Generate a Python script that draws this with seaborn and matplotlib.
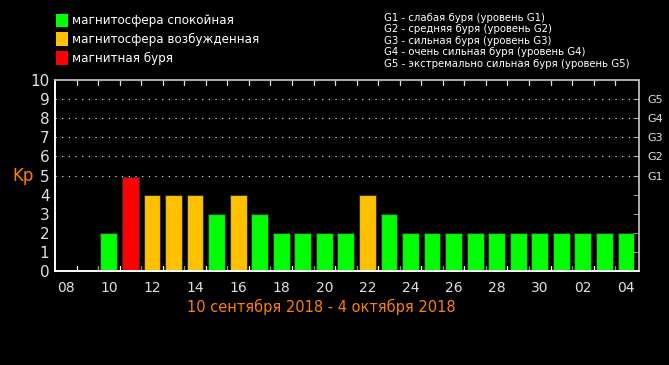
import numpy as np
import pandas as pd
import seaborn as sns
import matplotlib.pyplot as plt
from matplotlib.patches import Rectangle

# day labels from 08 Sep to 04 Oct
days = ["08", "09", "10", "11", "12", "13", "14", "15", "16", "17", "18", "19", "20",
        "21", "22", "23", "24", "25", "26", "27", "28", "29", "30", "01", "02", "03", "04"]
bar_days = days[2:]
kp = [2, 4.9, 4, 4, 4, 3, 4, 3, 2, 2, 2, 2, 4, 3, 2, 2, 2, 2, 2, 2, 2, 2, 2, 2, 2]
state = ["quiet", "storm", "active", "active", "active", "quiet", "active", "quiet",
         "quiet", "quiet", "quiet", "quiet", "active", "quiet", "quiet", "quiet", "quiet",
         "quiet", "quiet", "quiet", "quiet", "quiet", "quiet", "quiet", "quiet"]
legend_labels = ["магнитосфера спокойная", "магнитосфера возбужденная", "магнитная буря"]
g_labels = ["G1", "G2", "G3", "G4", "G5"]
g_text = ["G1 - слабая буря (уровень G1)",
          "G2 - средняя буря (уровень G2)",
          "G3 - сильная буря (уровень G3)",
          "G4 - очень сильная буря (уровень G4)",
          "G5 - экстремально сильная буря (уровень G5)"]
period = "10 сентября 2018 - 4 октября 2018"

colors = {"quiet": "#00ff00", "active": "#ffc000", "storm": "#ff0000"}
orange = "#ff8000"
fg = "#e0e0e0"

df = pd.DataFrame({"pos": [days.index(d) for d in bar_days], "kp": kp, "state": state})

sns.set_style("dark")
plt.rcParams["font.family"] = ["DejaVu Sans"]
fig = plt.figure(figsize=(6.69, 3.65), dpi=100, facecolor="black")
ax = fig.add_axes([0.0822, 0.2575, 0.8728, 0.5233])
ax.set_facecolor("black")

sns.barplot(data=df, x="pos", y="kp", hue="state", palette=colors, native_scale=True,
            width=0.78, dodge=False, legend=False, saturation=1,
            edgecolor="#303030", linewidth=0.8, ax=ax)

ax.set_xlim(-0.5, len(days) - 0.4)
ax.set_ylim(0, 10)
ax.set_xticks(range(0, len(days), 2))
ax.set_xticklabels(days[::2], color=fg, fontsize=10)
ax.set_yticks(range(0, 11))
ax.set_yticklabels([str(i) for i in range(11)], color=fg, fontsize=11)
ax.tick_params(axis="x", length=0, pad=7)
ax.tick_params(axis="y", length=0, pad=4)
ax.set_xlabel("")
ax.set_ylabel("Kp", color=orange, fontsize=12, rotation=0)
ax.yaxis.set_label_coords(-0.055, 0.45)

# dotted lines at storm levels
for lvl in range(5, 10):
    ax.axhline(lvl, color="white", linestyle=(0, (1, 5)), linewidth=0.8, zorder=0)
ax.grid(False)

# half-day tick marks on top and bottom
for i, h in enumerate(np.arange(0.5, len(days) - 1, 1)):
    ax.plot([h, h], [10, 9.75], color=fg, linewidth=0.9, clip_on=False)
    ax.plot([h, h], [0, 0.25], color="white" if i % 2 == 0 else "#909090",
            linewidth=0.9, clip_on=False)

# right axis G levels
ax2 = ax.twinx()
ax2.set_ylim(0, 10)
ax2.set_yticks(range(5, 10))
ax2.set_yticklabels(g_labels, color=fg, fontsize=8)
ax2.set_yticks(range(0, 11), minor=True)
ax2.tick_params(axis="y", which="both", direction="in", length=4, color="#b0b0b0", pad=6)
ax2.grid(False)

for a in (ax, ax2):
    for s in ("left", "bottom"):
        a.spines[s].set_color("white")
        a.spines[s].set_linewidth(1.2)
    for s in ("top", "right"):
        a.spines[s].set_color("#b0b0b0")
        a.spines[s].set_linewidth(1.2)

# legend on top-left
for i, lab in enumerate(legend_labels):
    y = 0.945 - i * 0.052
    fig.patches.append(Rectangle((0.084, y - 0.018), 0.018, 0.036, transform=fig.transFigure,
                                 facecolor=colors[["quiet", "active", "storm"][i]], edgecolor="none"))
    fig.text(0.108, y, lab, color="white", fontsize=8.6, va="center", ha="left")

for i, t in enumerate(g_text):
    fig.text(0.574, 0.951 - i * 0.0315, t, color="white", fontsize=7.3, va="center", ha="left")

fig.text(0.48, 0.158, period, color=orange, fontsize=10.5, ha="center", va="center")

fig.savefig("out.png", facecolor="black")
